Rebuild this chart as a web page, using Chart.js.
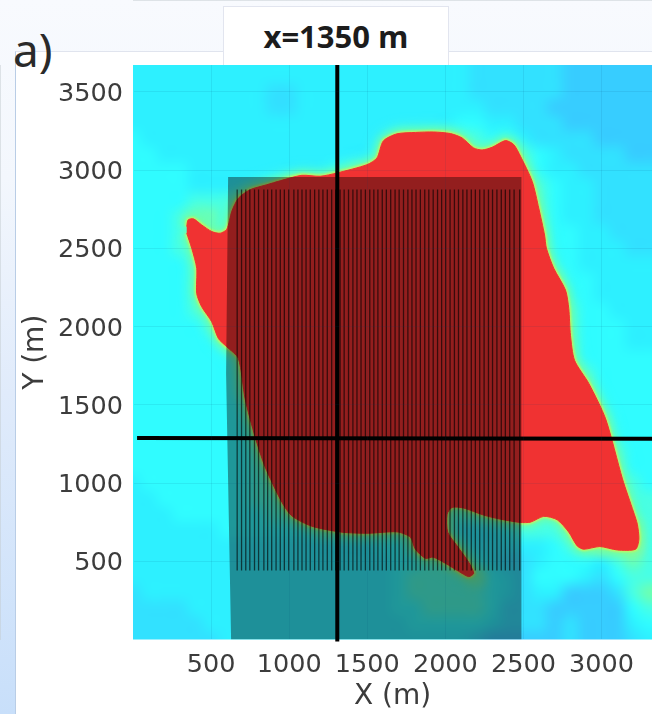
<!DOCTYPE html>
<html>
<head>
<meta charset="utf-8">
<title>x=1350 m</title>
<script src="https://cdn.jsdelivr.net/npm/chart.js@4"></script>
<style>
    html, body { margin: 0; padding: 0; }
    body {
        position: relative; width: 652px; height: 714px; overflow: hidden;
        background: linear-gradient(#f8fafe, #f3f7fd 25%, #e0ebfb 55%, #c8dffa);
    }
    #panel {
        position: absolute; left: 15px; top: 51px; right: 0; bottom: 0; background: #fff;
        border-left: 1px solid #b9cde6; border-top: 1px solid #e0e4ee;
    }
    #tab {
        position: absolute; left: 223px; top: 6px; width: 226px; height: 59px; background: #fff;
        border: 1px solid #e2e5ef; border-bottom: 0; box-sizing: border-box;
        font: bold 31px "Open Sans", sans-serif; color: #1c1c1c; text-align: center; line-height: 59px;
    }
    #label { position: absolute; left: 13px; top: 21px; font: 46px "Noto Sans", sans-serif; color: #2a2a2a; line-height: 56px; }
    canvas { position: absolute; left: 0; top: 0; }
</style>
</head>
<body>
<div id="panel"></div>
<div id="tab">x=1350 m</div>
<div id="label">a)</div>
<canvas id="map" width="652" height="714"></canvas>
<script>
    const xTicks = [500, 1000, 1500, 2000, 2500, 3000];
    const yTicks = [500, 1000, 1500, 2000, 2500, 3000, 3500];

    // Field level read by eye, 0 = blue, 5 = cyan, 9 = yellow. Rows from Y=3700 down to Y=0, columns X=0..3300, every 100 m
    const fieldStep = 100;
    const fieldRows = [
        "4444444444444444444444333333222222",
        "4444444444444444444444333333222222",
        "4444444443344444444444333333222222",
        "4444444443344444444444433332222222",
        "4444444444444444444445544333222222",
        "5444444444444444455566655433332222",
        "5544444444444444566666666654333322",
        "5555444444444566666666666654433333",
        "5555444445666666666666666665443333",
        "5555666666666666666666666665443333",
        "5556776666666666666666666665443333",
        "5556776666666666666666666665544333",
        "5556666666666666666666666665544433",
        "5555666666666666666666666665544444",
        "5555666666666666666666666666554444",
        "5555666666666666666666666666554444",
        "5555666666666666666666666666655444",
        "5555566666666666666666666666655544",
        "5555556666666666666666666666655544",
        "5555555666666666666666666666655555",
        "5555555666666666666666666666665555",
        "5555555666666666666666666666665555",
        "5555555566666666666666666666665555",
        "5555555566666666666666666666666555",
        "5555555566666666666666666666666555",
        "5555555566666666666666666666666655",
        "5555555566666666666666666666666655",
        "4555555566666666666666666666666665",
        "4455555566666666666666666666666666",
        "4445555556666666666666666666666666",
        "4444445555556666666664445666788886",
        "4444444444444444556665444445678896",
        "4444444444444444455666543345554676",
        "4444444444444444456666754355543566",
        "3444444444444444456666654344222367",
        "3333444444444444455666653332222256",
        "3333344444444444445555543332322245",
        "3333334444444444444444322222322234"
    ];

    // Outline of the red area, X and Y in m
    const redX = [344, 353, 387, 440, 504, 558, 601, 633, 675, 750, 857, 942, 1081, 1199, 1306, 1498, 1562, 1603, 1690, 1808, 1923, 2032, 2107, 2181, 2235, 2299, 2385, 2438, 2481, 2556, 2598, 2635, 2647, 2694, 2769, 2790, 2801, 2827, 2919, 3026, 3134, 3205, 3229, 3239, 3218, 3101, 2989, 2886, 2844, 2790, 2716, 2630, 2545, 2481, 2352, 2245, 2117, 2043, 2011, 2015, 2075, 2149, 2181, 2149, 2085, 2000, 1923, 1872, 1808, 1776, 1690, 1506, 1338, 1145, 1017, 953, 846, 782, 718, 675, 601, 547, 504, 440, 408, 408, 376, 344];
    const redY = [2639, 2681, 2688, 2649, 2607, 2596, 2622, 2737, 2820, 2874, 2906, 2931, 2966, 2960, 2981, 3034, 3077, 3186, 3231, 3240, 3243, 3233, 3205, 3141, 3128, 3145, 3188, 3162, 3088, 2927, 2756, 2585, 2500, 2372, 2233, 2115, 1944, 1784, 1635, 1410, 1026, 814, 737, 641, 577, 572, 594, 577, 598, 686, 765, 787, 750, 748, 769, 795, 840, 844, 801, 686, 598, 494, 423, 402, 436, 487, 526, 519, 577, 654, 688, 679, 686, 724, 790, 878, 1103, 1295, 1538, 1795, 1870, 1923, 2030, 2126, 2211, 2372, 2500, 2596];

    // Shaded block
    const blockX = [609, 2487, 2487, 628, 596, 609];
    const blockY = [2955, 2955, 0, 0, 1700, 2955];

    // Thin vertical lines
    const lineTop = 2875;
    const lineBottom = 441;
    const lineX = [667, 695, 722, 748, 778, 804, 838, 862, 888, 916, 943, 969, 997, 1030, 1056, 1082, 1108, 1135, 1163, 1190, 1216, 1244, 1272, 1298, 1326, 1352, 1380, 1408, 1434, 1460, 1488, 1516, 1542, 1568, 1596, 1622, 1650, 1678, 1704, 1732, 1760, 1786, 1812, 1840, 1868, 1894, 1922, 1950, 1976, 2002, 2030, 2058, 2084, 2112, 2138, 2166, 2192, 2220, 2248, 2276, 2302, 2330, 2358, 2384, 2412, 2440, 2476];

    // Section lines
    const crossVX = [1308, 1308];
    const crossVY = [-20, 3700];
    const crossHX = [26, 3340];
    const crossHY = [1288, 1282];

    const levelColors = [
        [45, 140, 255], [50, 170, 255], [55, 205, 255], [50, 225, 255], [45, 240, 255],
        [48, 252, 255], [72, 255, 228], [110, 255, 175], [170, 250, 110], [230, 240, 70]
    ];

    function toPoints(xs, ys) {
        return xs.map(function (x, i) { return {x: x, y: ys[i]}; });
    }

    function shape(xs, ys, extra) {
        return Object.assign({
            data: toPoints(xs, ys),
            showLine: true,
            pointRadius: 0,
            borderWidth: 0,
            borderColor: 'transparent',
            backgroundColor: 'transparent',
            fill: false
        }, extra);
    }

    var linePoints = [];
    lineX.forEach(function (x) {
        linePoints.push({x: x, y: lineBottom}, {x: x, y: lineTop}, {x: x, y: NaN});
    });

    // Field image, drawn under the datasets at the place the scales give
    var fieldPlugin = {
        id: 'field',
        beforeDatasetsDraw: function (chart) {
            const rows = fieldRows.length, cols = fieldRows[0].length;
            const off = document.createElement('canvas');
            off.width = cols;
            off.height = rows;
            const octx = off.getContext('2d');
            const img = octx.createImageData(cols, rows);
            fieldRows.forEach(function (row, r) {
                for (let c = 0; c < cols; c++) {
                    const col = levelColors[+row[c]];
                    const k = (r * cols + c) * 4;
                    img.data[k] = col[0];
                    img.data[k + 1] = col[1];
                    img.data[k + 2] = col[2];
                    img.data[k + 3] = 255;
                }
            });
            octx.putImageData(img, 0, 0);
            const sx = chart.scales.x, sy = chart.scales.y, a = chart.chartArea, ctx = chart.ctx;
            const left = sx.getPixelForValue(-fieldStep / 2);
            const right = sx.getPixelForValue((cols - 0.5) * fieldStep);
            const bottom = sy.getPixelForValue(-fieldStep / 2);
            const top = sy.getPixelForValue((rows - 0.5) * fieldStep);
            ctx.save();
            ctx.beginPath();
            ctx.rect(a.left, a.top, a.right - a.left, a.bottom - a.top);
            ctx.clip();
            ctx.imageSmoothingEnabled = true;
            ctx.imageSmoothingQuality = 'high';
            ctx.drawImage(off, left, top, right - left, bottom - top);
            ctx.restore();
        },
        // soft edge around the red area
        beforeDatasetDraw: function (chart, args) {
            const blur = chart.data.datasets[args.index].blur;
            if (blur) {
                chart.ctx.save();
                chart.ctx.filter = 'blur(' + blur + 'px)';
            }
        },
        afterDatasetDraw: function (chart, args) {
            if (chart.data.datasets[args.index].blur) {
                chart.ctx.restore();
            }
        }
    };

    function plainTick(value) {
        return String(value);
    }

    // First dataset ends up on top
    new Chart(document.getElementById('map'), {
        type: 'scatter',
        data: {
            datasets: [
                shape(crossVX, crossVY, {borderColor: '#000', borderWidth: 4, clip: {left: 0, top: 0, right: 0, bottom: 2}}),
                shape(crossHX, crossHY, {borderColor: '#000', borderWidth: 4}),
                {data: linePoints, showLine: true, pointRadius: 0, borderColor: 'rgba(0,0,0,.62)', borderWidth: 1.3, spanGaps: false},
                shape(blockX, blockY, {backgroundColor: 'rgba(8,0,0,.4)', fill: 'shape'}),
                shape(redX, redY, {backgroundColor: '#f03232', borderColor: '#f03232', borderWidth: 1, fill: 'shape', tension: 0.25}),
                shape(redX, redY, {borderColor: 'rgba(225,240,70,.8)', borderWidth: 3.5, tension: 0.25, blur: 1}),
                shape(redX, redY, {borderColor: 'rgba(120,255,150,.7)', borderWidth: 10, tension: 0.25, blur: 3}),
                shape(redX, redY, {borderColor: 'rgba(80,255,215,.45)', borderWidth: 20, tension: 0.25, blur: 5})
            ]
        },
        options: {
            responsive: false,
            animation: false,
            layout: {padding: {top: 65, right: 0, left: 0, bottom: 0}},
            plugins: {legend: {display: false}, tooltip: {enabled: false}},
            scales: {
                x: {
                    type: 'linear', min: 0, max: 3323,
                    afterBuildTicks: function (s) { s.ticks = xTicks.map(function (v) { return {value: v}; }); },
                    afterFit: function (s) { s.height = 74.5; },
                    grid: {color: 'rgba(0,70,110,.09)', drawTicks: false, z: 1},
                    border: {color: '#c3cbd0', width: 1},
                    ticks: {font: {family: 'DejaVu Sans', size: 25.5}, color: '#3c3c3c', padding: 11, maxRotation: 0, autoSkip: false, callback: plainTick},
                    title: {display: true, text: 'X (m)', font: {family: 'DejaVu Sans', size: 28}, color: '#3c3c3c', padding: {top: 0, bottom: 0}}
                },
                y: {
                    type: 'linear', min: 0, max: 3671,
                    afterBuildTicks: function (s) { s.ticks = yTicks.map(function (v) { return {value: v}; }); },
                    afterFit: function (s) { s.width = 133; },
                    grid: {color: 'rgba(0,70,110,.09)', drawTicks: false, z: 1},
                    border: {color: '#c3cbd0', width: 1},
                    ticks: {font: {family: 'DejaVu Sans', size: 25.5}, color: '#3c3c3c', padding: 10, labelOffset: 2.5, autoSkip: false, callback: plainTick},
                    title: {display: true, text: 'Y (m)', font: {family: 'DejaVu Sans', size: 28}, color: '#3c3c3c', padding: {top: 19, bottom: 0}}
                }
            }
        },
        plugins: [fieldPlugin]
    });
</script>
</body>
</html>
